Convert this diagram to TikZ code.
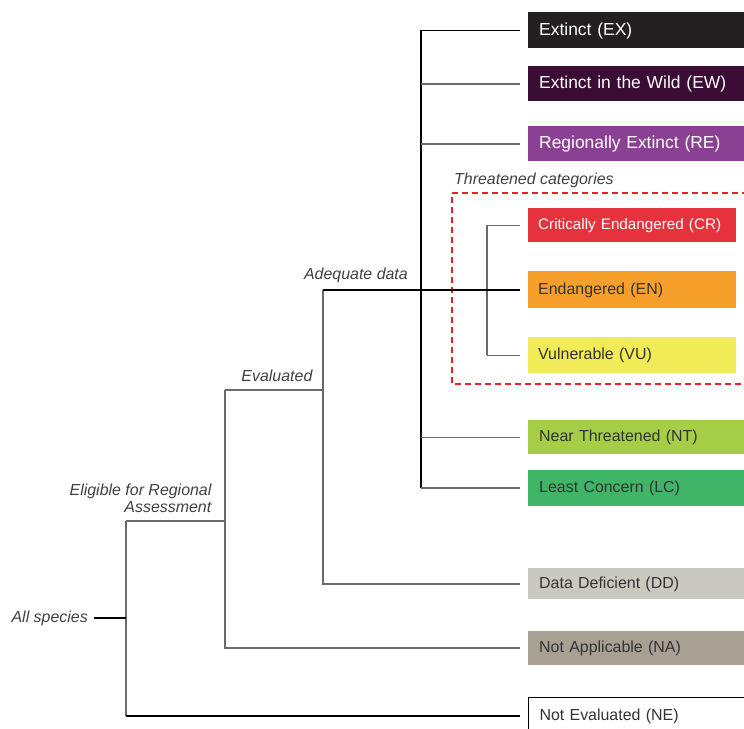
\documentclass[tikz,border=0pt]{standalone}
\usepackage{fontspec}
\setmainfont{Liberation Sans}
\usepackage{tikz}
\usetikzlibrary{arrows,shapes}
\definecolor{cEX}{HTML}{231F20}
\definecolor{cEW}{HTML}{3B0C34}
\definecolor{cRE}{HTML}{8A4194}
\definecolor{cCR}{HTML}{E5323D}
\definecolor{cEN}{HTML}{F6A02B}
\definecolor{cVU}{HTML}{F2EB58}
\definecolor{cNT}{HTML}{A5CD45}
\definecolor{cLC}{HTML}{40B467}
\definecolor{cDD}{HTML}{C9C9BF}
\definecolor{cNA}{HTML}{A8A193}
\definecolor{cline}{HTML}{6A6A6A}
\definecolor{cdash}{HTML}{E8202A}
\newcommand{\brl}[1]{\textit{#1}}
\newcommand{\bigtxt}{\fontsize{17.5}{20}\selectfont}

\begin{document}
\begin{tikzpicture}[>=latex]
      \tikzstyle{every node}=[font=\fontsize{16}{19}\selectfont, inner sep=0pt]
      \tikzstyle{catbox}=[draw=none, anchor=west, inner xsep=11bp, inner ysep=0pt, text width=194bp, align=left, text=black!80]
      \tikzstyle{thrcat}=[catbox, inner xsep=10bp, text width=188bp]
      \tikzstyle{lbl}=[text=black!75, inner sep=1bp]
      \tikzstyle{trunk}=[draw=black, line width=1.5bp]
      \tikzstyle{twig}=[draw=cline, line width=1.9bp]
      %%
  \useasboundingbox (0bp,0bp) rectangle (744bp,729bp);
  \node (c_ex) at (528bp,698.5bp) [catbox, fill=cEX, text=white, minimum height=36bp, font=\bigtxt] {Extinct (EX)};
  \node (c_ew) at (528bp,645bp) [catbox, fill=cEW, text=white, minimum height=35bp, font=\bigtxt] {Extinct in the Wild (EW)};
  \node (c_re) at (528bp,585bp) [catbox, fill=cRE, text=white, minimum height=35bp, font=\bigtxt] {Regionally Extinct (RE)};
  \node (c_cr) at (528bp,503.5bp) [thrcat, fill=cCR, text=white, minimum height=34bp, font=\fontsize{15.3}{18}\selectfont] {Critically Endangered (CR)};
  \node (c_en) at (528bp,439bp) [thrcat, fill=cEN, minimum height=37bp] {Endangered (EN)};
  \node (c_vu) at (528bp,373.5bp) [thrcat, fill=cVU, minimum height=36bp] {Vulnerable (VU)};
  \node (c_nt) at (528bp,291.5bp) [catbox, fill=cNT, minimum height=34bp] {Near Threatened (NT)};
  \node (c_lc) at (528bp,241bp) [catbox, fill=cLC, minimum height=36bp] {Least Concern (LC)};
  \node (c_dd) at (528bp,145bp) [catbox, fill=cDD, minimum height=31bp] {Data Deficient (DD)};
  \node (c_na) at (528bp,81bp) [catbox, fill=cNA, minimum height=34bp] {Not Applicable (NA)};
  \node (c_ne) at (528bp,13bp) [catbox, draw=black, line width=1bp, fill=white, text width=200bp, minimum height=36bp] {Not Evaluated (NE)};
  %%
  \node (l_thr) at (453bp,549bp) [anchor=west, lbl] {\brl{Threatened categories}};
  \node (l_adq) at (409bp,454bp) [anchor=east, lbl] {\brl{Adequate data}};
  \node (l_eval) at (314bp,353bp) [anchor=east, lbl] {\brl{Evaluated}};
  \node (l_elig) at (213bp,230.5bp) [anchor=east, lbl, align=right, font=\fontsize{16}{17}\selectfont] {\brl{Eligible for Regional}\\\brl{Assessment}};
  \node (allsp) at (89bp,111bp) [anchor=east, lbl] {\brl{All species}};
  %%
  \coordinate (j_all) at (126bp,111bp);
  \coordinate (j_elig) at (225bp,208bp);
  \coordinate (j_eval) at (323bp,339bp);
  \coordinate (j_adq) at (421bp,439bp);
  \coordinate (j_thr) at (487bp,439bp);
  %%
  \draw [cdash, line width=1.3bp, dash pattern=on 6bp off 4bp] (748bp,536bp) -- (452bp,536bp) -- (452bp,345bp) -- (748bp,345bp);
  %%
  \draw [trunk] (j_adq |- c_ex) -- (j_adq |- c_lc);
  \draw [trunk, shorten >=8bp] (j_adq |- c_ex) -- (c_ex);
  \draw [twig, shorten >=8bp] (j_adq |- c_ew) -- (c_ew);
  \draw [twig, shorten >=8bp] (j_adq |- c_re) -- (c_re);
  \draw [twig, shorten >=8bp] (j_adq |- c_nt) -- (c_nt);
  \draw [twig, shorten >=8bp] (j_adq |- c_lc) -- (c_lc);
  \draw [twig] (j_thr |- c_cr) -- (j_thr |- c_vu);
  \draw [twig, shorten >=8bp] (j_thr |- c_cr) -- (c_cr);
  \draw [twig, shorten >=8bp] (j_thr |- c_vu) -- (c_vu);
  \draw [twig, shorten >=8bp] (j_eval |- c_en) -- (j_eval |- c_dd) -- (c_dd);
  \draw [trunk, shorten >=8bp] (j_eval |- c_en) -- (c_en);
  \draw [twig] (j_elig |- j_eval) -- (j_eval);
  \draw [twig, shorten >=8bp] (j_elig |- j_eval) -- (j_elig |- c_na) -- (c_na);
  \draw [twig] (j_all |- j_elig) -- (j_elig);
  \draw [twig] (j_all |- j_elig) -- (j_all |- c_ne);
  \draw [trunk, shorten >=8bp] (j_all |- c_ne) -- (c_ne);
  \draw [trunk, shorten <=5bp] (allsp) -- (j_all);
%
    \end{tikzpicture}
\end{document}
